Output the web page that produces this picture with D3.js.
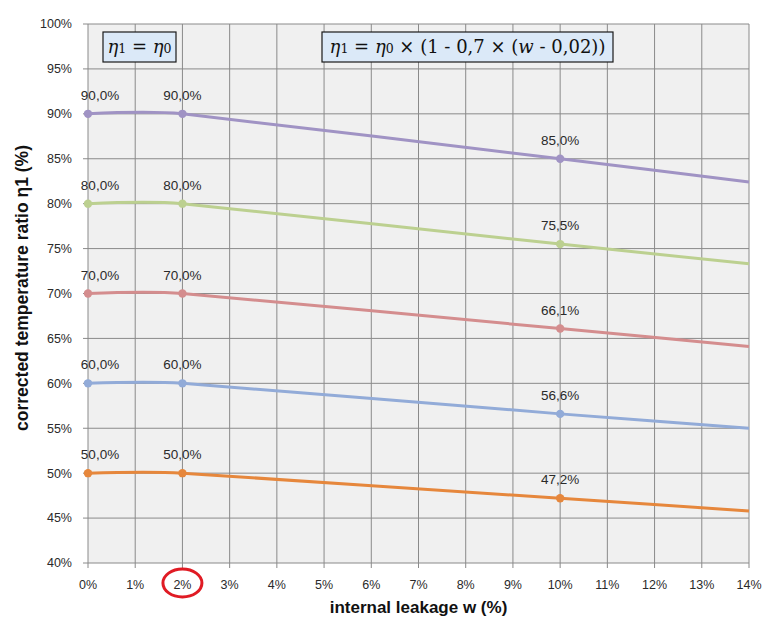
<!DOCTYPE html>
<html>
<head>
<meta charset="utf-8">
<script src="https://cdn.jsdelivr.net/npm/d3@7"></script>
<style>
  body { margin: 0; background: #fff; }
  svg { display: block; font-family: "Liberation Sans", Arial, sans-serif; }
</style>
</head>
<body>
<script>
// data
const leakage = [0, 2, 10, 14];          // internal leakage w (%)
const eta90 = [90.0, 90.0, 85.0, 82.4];
const eta80 = [80.0, 80.0, 75.5, 73.3];
const eta70 = [70.0, 70.0, 66.1, 64.1];
const eta60 = [60.0, 60.0, 56.6, 55.0];
const eta50 = [50.0, 50.0, 47.2, 45.8];
const xTicks = d3.range(0, 15, 1);
const yTicks = d3.range(40, 101, 5);
const labelled = [0, 1, 2];               // points with marker + label

const allSeries = [eta90, eta80, eta70, eta60, eta50];
const colors = ["#a093c4", "#bcd090", "#d48d8e", "#92abd8", "#e6873c"];

const width = 765, height = 619;
const svg = d3.select("body").append("svg")
    .attr("width", width)
    .attr("height", height);

const x = d3.scaleLinear().domain([0, 14]).range([88, 749]);
const y = d3.scaleLinear().domain([40, 100]).range([563, 24]);

// plot area
svg.append("rect")
    .attr("x", x(0)).attr("y", y(100))
    .attr("width", x(14) - x(0)).attr("height", y(40) - y(100))
    .attr("fill", "#f0f0f0");

// grid
svg.append("g").selectAll("line.v")
    .data(xTicks)
    .enter().append("line")
    .attr("x1", d => x(d)).attr("x2", d => x(d))
    .attr("y1", y(100)).attr("y2", y(40) + 5)
    .attr("stroke", "#8a8a8a").attr("stroke-width", 1);

svg.append("g").selectAll("line.h")
    .data(yTicks)
    .enter().append("line")
    .attr("x1", x(0) - 5).attr("x2", x(14))
    .attr("y1", d => y(d)).attr("y2", d => y(d))
    .attr("stroke", "#8a8a8a").attr("stroke-width", 1);

// tick labels
svg.append("g").selectAll("text")
    .data(xTicks)
    .enter().append("text")
    .attr("x", d => x(d)).attr("y", 589)
    .attr("text-anchor", "middle")
    .attr("font-size", 12.5).attr("fill", "#2a2a2a")
    .text(d => d + "%");

svg.append("g").selectAll("text")
    .data(yTicks)
    .enter().append("text")
    .attr("x", 72).attr("y", d => y(d))
    .attr("dy", "0.35em")
    .attr("text-anchor", "end")
    .attr("font-size", 12.5).attr("fill", "#2a2a2a")
    .text(d => d + "%");

// axis titles
svg.append("text")
    .attr("x", (x(0) + x(14)) / 2).attr("y", 613)
    .attr("text-anchor", "middle")
    .attr("font-size", 17).attr("font-weight", "bold").attr("fill", "#111")
    .text("internal leakage w (%)");

svg.append("text")
    .attr("transform", "translate(28, 288) rotate(-90)")
    .attr("text-anchor", "middle")
    .attr("font-size", 17.5).attr("font-weight", "bold").attr("fill", "#111")
    .text("corrected temperature ratio η1 (%)");

// lines (Excel-like smoothing)
const line = d3.line()
    .x((d, i) => x(leakage[i]))
    .y(d => y(d))
    .curve(d3.curveCardinal.tension(0.6));

allSeries.forEach(function (vals, s) {
    const g = svg.append("g").attr("class", "series-" + s);
    g.append("path")
        .attr("fill", "none")
        .attr("stroke", colors[s])
        .attr("stroke-width", 3)
        .attr("d", line(vals));

    const pts = labelled.map(i => ({w: leakage[i], v: vals[i], i: i}));
    g.selectAll("circle")
        .data(pts)
        .enter().append("circle")
        .attr("cx", d => x(d.w)).attr("cy", d => y(d.v))
        .attr("r", 4.2)
        .attr("fill", colors[s]);

    g.selectAll("text")
        .data(pts)
        .enter().append("text")
        .attr("x", d => x(d.w) + (d.i === 0 ? 12 : 0))
        .attr("y", d => y(d.v) - 14)
        .attr("text-anchor", "middle")
        .attr("font-size", 13.5).attr("fill", "#2a2a2a")
        .text(d => d.v.toFixed(1).replace(".", ",") + "%");
});

// formula boxes
function formulaBox(bx, by, bw, bh, parts) {
    svg.append("rect")
        .attr("x", bx).attr("y", by).attr("width", bw).attr("height", bh)
        .attr("fill", "#dbe9f8").attr("stroke", "#1a1a1a").attr("stroke-width", 1.2);
    const t = svg.append("text")
        .attr("x", bx + bw / 2).attr("y", by + bh / 2 + 6)
        .attr("text-anchor", "middle")
        .attr("font-family", "'DejaVu Serif', 'Liberation Serif', serif")
        .attr("font-size", 18).attr("fill", "#111");
    parts.forEach(function (p) {
        t.append("tspan")
            .attr("font-style", p.it ? "italic" : "normal")
            .attr("font-size", p.small ? 12.5 : 18)
            .text(p.t);
    });
}

formulaBox(103, 32, 73, 30, [
    {t: "η", it: true}, {t: "1", small: true}, {t: " = "},
    {t: "η", it: true}, {t: "0", small: true}
]);

formulaBox(322, 32, 291, 30, [
    {t: "η", it: true}, {t: "1", small: true}, {t: " = "},
    {t: "η", it: true}, {t: "0", small: true},
    {t: " × (1 - 0,7 × ("}, {t: "w", it: true}, {t: " - 0,02))"}
]);

// red circle around the 2% tick
svg.append("ellipse")
    .attr("cx", x(2)).attr("cy", 583)
    .attr("rx", 19.5).attr("ry", 14)
    .attr("fill", "none")
    .attr("stroke", "#e01b24")
    .attr("stroke-width", 3);
</script>
</body>
</html>
